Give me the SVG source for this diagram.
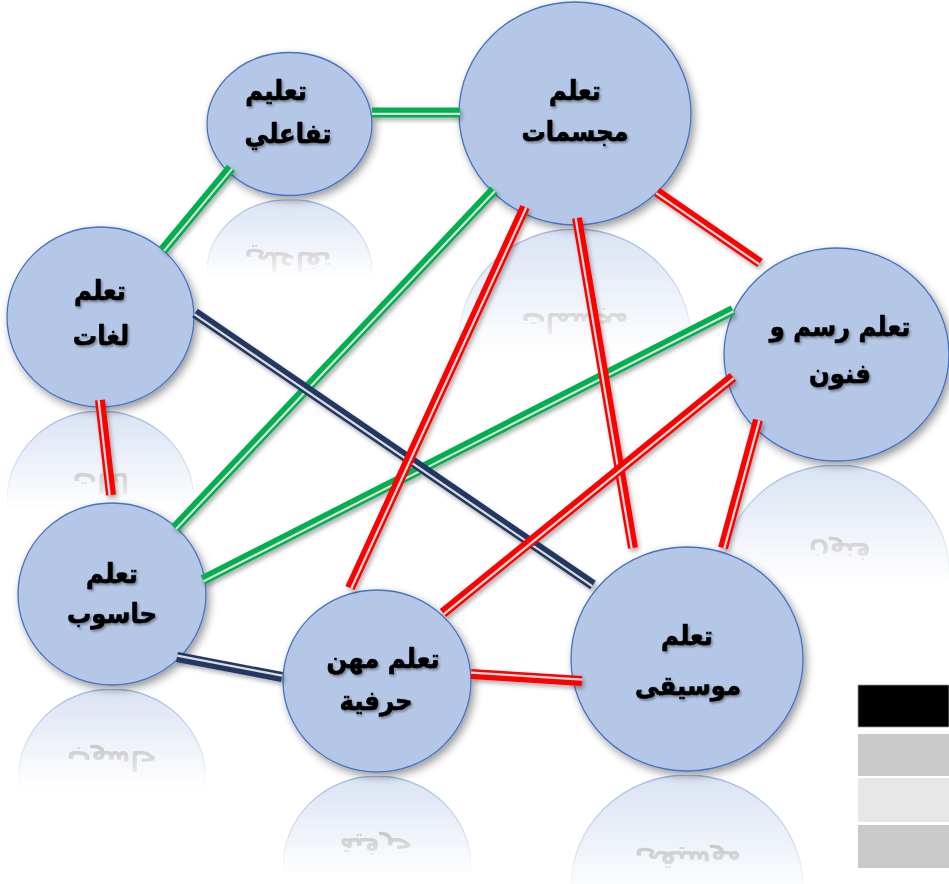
<svg xmlns="http://www.w3.org/2000/svg" width="949" height="884" viewBox="0 0 949 884">
<defs>
<style>
.node{fill:#B4C7E7;stroke:#4472C4;stroke-width:1.3}
.lbl{font-family:"DejaVu Sans Condensed","DejaVu Sans",sans-serif;font-weight:bold;font-size:27px;fill:#000;stroke:#000;stroke-width:0.6;text-anchor:middle}
.rlbl{font-family:"DejaVu Sans Condensed","DejaVu Sans",sans-serif;font-weight:bold;font-size:27px;fill:#000;text-anchor:middle}
.g{stroke:#00B050}
.r{stroke:#FF0000}
.n{stroke:#203864}
.c{stroke-width:10;stroke-linecap:butt;fill:none}
.gap{stroke:#DCDCDC;stroke-width:2.2;fill:none}
</style>
<filter id="sh" x="-20%" y="-20%" width="150%" height="150%">
<feDropShadow dx="3" dy="4" stdDeviation="4" flood-color="#000" flood-opacity="0.4"/>
</filter>
<filter id="lsh" x="-20%" y="-20%" width="150%" height="150%">
<feDropShadow dx="2" dy="3" stdDeviation="2" flood-color="#000" flood-opacity="0.3"/>
</filter>
<filter id="tsh" x="-20%" y="-20%" width="150%" height="150%">
<feDropShadow dx="1.5" dy="2" stdDeviation="1" flood-color="#000" flood-opacity="0.35"/>
</filter>
<linearGradient id="fade" x1="0" y1="0" x2="0" y2="1">
<stop offset="0" stop-color="#fff" stop-opacity="0.5"/>
<stop offset="0.55" stop-color="#fff" stop-opacity="0"/>
</linearGradient>
<mask id="rm" maskContentUnits="objectBoundingBox">
<rect x="0" y="0" width="1" height="1" fill="url(#fade)"/>
</mask>
</defs>
<rect width="949" height="884" fill="#fff"/>

<g id="reflections">
<g mask="url(#rm)"><g transform="matrix(1,0,0,-1,0,395)"><ellipse class="node" cx="289.5" cy="124" rx="82.5" ry="71.5"/><text class="rlbl" x="288" y="143">تفاعلي</text></g></g>
<g mask="url(#rm)"><g transform="matrix(1,0,0,-1,0,454)"><ellipse class="node" cx="575" cy="113.5" rx="116" ry="111.5"/><text class="rlbl" x="575" y="141">مجسمات</text></g></g>
<g mask="url(#rm)"><g transform="matrix(1,0,0,-1,0,818)"><ellipse class="node" cx="100.5" cy="317" rx="93.5" ry="90"/><text class="rlbl" x="101" y="345">لغات</text></g></g>
<g mask="url(#rm)"><g transform="matrix(1,0,0,-1,0,926)"><ellipse class="node" cx="836.5" cy="354.5" rx="112.5" ry="106.5"/><text class="rlbl" x="840" y="383">فنون</text></g></g>
<g mask="url(#rm)"><g transform="matrix(1,0,0,-1,0,1374)"><ellipse class="node" cx="112" cy="594" rx="94" ry="91"/><text class="rlbl" x="112" y="623">حاسوب</text></g></g>
<g mask="url(#rm)"><g transform="matrix(1,0,0,-1,0,1548)"><ellipse class="node" cx="377" cy="681" rx="94" ry="91"/><text class="rlbl" x="376" y="710">حرفية</text></g></g>
<g mask="url(#rm)"><g transform="matrix(1,0,0,-1,0,1546)"><ellipse class="node" cx="687" cy="659" rx="116" ry="112"/><text class="rlbl" x="688" y="695">موسيقى</text></g></g>
</g>

<g id="node-interactive" filter="url(#sh)"><ellipse class="node" cx="289.5" cy="124" rx="82.5" ry="71.5"/></g>
<g id="node-models" filter="url(#sh)"><ellipse class="node" cx="575" cy="113.5" rx="116" ry="111.5"/></g>
<g id="node-languages" filter="url(#sh)"><ellipse class="node" cx="100.5" cy="317" rx="93.5" ry="90"/></g>
<g id="node-art" filter="url(#sh)"><ellipse class="node" cx="836.5" cy="354.5" rx="112.5" ry="106.5"/></g>
<g id="node-computer" filter="url(#sh)"><ellipse class="node" cx="112" cy="594" rx="94" ry="91"/></g>
<g id="node-crafts" filter="url(#sh)"><ellipse class="node" cx="377" cy="681" rx="94" ry="91"/></g>
<g id="node-music" filter="url(#sh)"><ellipse class="node" cx="687" cy="659" rx="116" ry="112"/></g>

<g id="connectors" filter="url(#lsh)">
<g><line class="c g" x1="372" y1="112.5" x2="460" y2="112.5"/><line class="gap" x1="372" y1="113.9" x2="460" y2="113.9"/></g>
<g><line class="c g" x1="163" y1="250" x2="231" y2="168"/><line class="gap" x1="164.08" y1="250.89" x2="232.08" y2="168.89"/></g>
<g><line class="c g" x1="175" y1="528" x2="494" y2="190"/><line class="gap" x1="176.02" y1="528.96" x2="495.02" y2="190.96"/></g>
<g><line class="c g" x1="203" y1="580" x2="733" y2="310"/><line class="gap" x1="203.64" y1="581.25" x2="733.64" y2="311.25"/></g>
<g><line class="c n" x1="195" y1="313" x2="593" y2="585"/><line class="gap" x1="194.21" y1="314.16" x2="592.21" y2="586.16"/></g>
<g><line class="c n" x1="177" y1="657" x2="282" y2="677"/><line class="gap" x1="177.26" y1="655.63" x2="282.26" y2="675.63"/></g>
<g><line class="c r" x1="100" y1="400" x2="111" y2="495"/><line class="gap" x1="98.61" y1="400.16" x2="109.61" y2="495.16"/></g>
<g><line class="c r" x1="657" y1="192" x2="760" y2="263"/><line class="gap" x1="656.21" y1="193.15" x2="759.21" y2="264.15"/></g>
<g><line class="c r" x1="350" y1="588" x2="525" y2="207"/><line class="gap" x1="351.27" y1="588.58" x2="526.27" y2="207.58"/></g>
<g><line class="c r" x1="577" y1="218" x2="633" y2="548"/><line class="gap" x1="575.62" y1="218.23" x2="631.62" y2="548.23"/></g>
<g><line class="c r" x1="443" y1="613" x2="733" y2="377"/><line class="gap" x1="443.88" y1="614.09" x2="733.88" y2="378.09"/></g>
<g><line class="c r" x1="723" y1="548" x2="758" y2="420"/><line class="gap" x1="724.35" y1="548.37" x2="759.35" y2="420.37"/></g>
<g><line class="c r" x1="471" y1="674" x2="582" y2="681"/><line class="gap" x1="471.09" y1="672.6" x2="582.09" y2="679.6"/></g>
</g>

<g id="labels" filter="url(#tsh)">
<text class="lbl" x="276" y="100">تعليم</text><text class="lbl" x="288" y="143">تفاعلي</text>
<text class="lbl" x="575" y="100">تعلم</text><text class="lbl" x="575" y="141">مجسمات</text>
<text class="lbl" x="100" y="300">تعلم</text><text class="lbl" x="101" y="345">لغات</text>
<text class="lbl" x="840" y="336">تعلم رسم و</text><text class="lbl" x="840" y="383">فنون</text>
<text class="lbl" x="112" y="583">تعلم</text><text class="lbl" x="112" y="623">حاسوب</text>
<text class="lbl" x="383" y="668">تعلم مهن</text><text class="lbl" x="376" y="710">حرفية</text>
<text class="lbl" x="687" y="645">تعلم</text><text class="lbl" x="688" y="695">موسيقى</text>
</g>

<g id="legend">
<rect x="858" y="685" width="91" height="42" fill="#000" stroke="#999" stroke-width="0.8"/>
<rect x="858" y="734" width="91" height="42" fill="#C9C9C9"/>
<rect x="858" y="778" width="91" height="44" fill="#E7E7E7"/>
<rect x="858" y="825" width="91" height="43" fill="#C9C9C9"/>
</g>
</svg>
